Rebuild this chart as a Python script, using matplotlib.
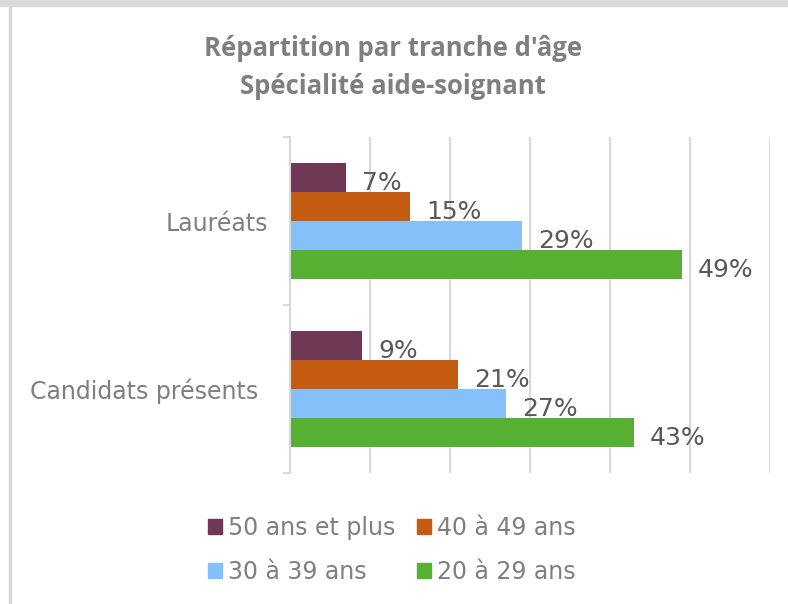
import matplotlib
matplotlib.use("Agg")
import matplotlib.pyplot as plt
from matplotlib.patches import Rectangle
import matplotlib.transforms as mtransforms
import numpy as np

# data
categories = ["Candidats présents", "Lauréats"]
series = ["50 ans et plus", "40 à 49 ans", "30 à 39 ans", "20 à 29 ans"]
values = {
    "50 ans et plus": [9, 7],
    "40 à 49 ans": [21, 15],
    "30 à 39 ans": [27, 29],
    "20 à 29 ans": [43, 49],
}
colors = ["#6F3854", "#C55A11", "#85C0FA", "#58B033"]

grid_col = "#D9D9D9"
label_col = "#595959"
text_col = "#7F7F7F"

fig = plt.figure(figsize=(7.88, 6.04), dpi=100)
W, H = 788, 604

# frame bits: grey band on top, grey line on the left
fig.patches.append(Rectangle((0, 1 - 6 / H), 1, 6 / H, transform=fig.transFigure,
                             color=grid_col, zorder=0))
fig.patches.append(Rectangle((9 / W, 0), 2 / W, 1 - 6 / H, transform=fig.transFigure,
                             color=grid_col, zorder=0))

ax = fig.add_axes([290 / W, 1 - 473 / H, 480 / W, 336 / H])

y = np.arange(len(categories)) + 0.5
h = 29 / 168
for i, (s, c) in enumerate(zip(series, colors)):
    offs = (1.5 - i) * h
    vals = values[s]
    ax.barh(y + offs, vals, height=h, color=c, zorder=2)
    for yy, v in zip(y + offs, vals):
        ax.text(v + 2.0, yy - 0.03, f"{v}%", va="center", ha="left",
                fontsize=18, color=label_col)

ax.set_xlim(0, 60)
ax.set_ylim(0, 2)
ax.set_xticks(np.arange(0, 61, 10))
ax.xaxis.grid(True, color=grid_col, linewidth=1.5, zorder=0)
ax.tick_params(axis="x", length=0, labelbottom=False)

ax.set_yticks([0, 1, 2])
ax.set_yticklabels([])
ax.tick_params(axis="y", which="major", length=5, width=1.5, color=grid_col)

# category labels (Excel puts them slightly differently per line)
trans = mtransforms.blended_transform_factory(ax.transAxes, ax.transData)
cat_right = [-32 / 480, -22 / 480]
for yy, lab, xr in zip(y, categories, cat_right):
    ax.text(xr, yy - 0.015, lab, ha="right", va="center", fontsize=17, color=text_col,
            transform=trans)

for sp in ["top", "right", "bottom"]:
    ax.spines[sp].set_visible(False)
ax.spines["left"].set_color(grid_col)
ax.spines["left"].set_linewidth(1.5)

fig.text(393 / W, 1 - 48 / H, "Répartition par tranche d'âge", ha="center", va="center",
         fontsize=18.5, fontweight="bold", color=text_col, family="Open Sans")
fig.text(393 / W, 1 - 86 / H, "Spécialité aide-soignant", ha="center", va="center",
         fontsize=18.5, fontweight="bold", color=text_col, family="Open Sans")

# legend filled row by row like in Excel
order = [0, 2, 1, 3]
handles = [Rectangle((0, 0), 1, 1, color=colors[k]) for k in order]
leg = fig.legend(handles, [series[k] for k in order], loc="center",
                 bbox_to_anchor=(392 / W, 1 - 550 / H),
                 ncol=2, frameon=False, fontsize=17, handlelength=0.6, handleheight=0.6,
                 handletextpad=0.25, columnspacing=0.9, labelspacing=0.85)
for t in leg.get_texts():
    t.set_color(text_col)

fig.savefig("out.png", dpi=100)
